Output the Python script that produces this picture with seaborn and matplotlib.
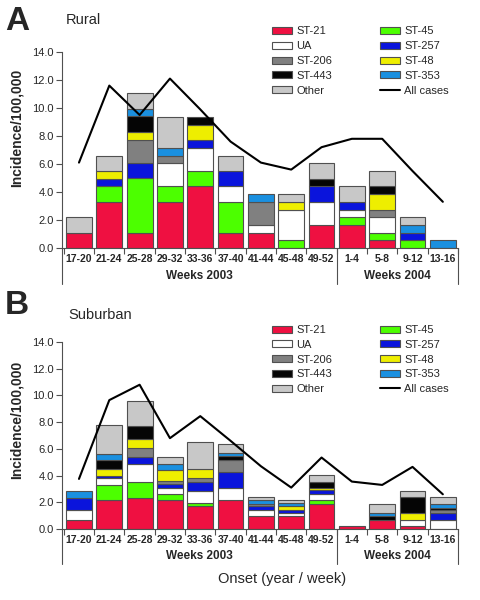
import numpy as np
import matplotlib
matplotlib.use("Agg")
import matplotlib.pyplot as plt
import matplotlib.transforms as mtransforms
from matplotlib.patches import Patch
from matplotlib.lines import Line2D
import seaborn as sns

sns.set_style("ticks")
plt.rcParams['font.family'] = ['Liberation Sans', 'DejaVu Sans']

# semanas de inicio
semanas = ["17-20", "21-24", "25-28", "29-32", "33-36", "37-40", "41-44",
           "45-48", "49-52", "1-4", "5-8", "9-12", "13-16"]
tipos = ["ST-21", "ST-45", "UA", "ST-257", "ST-206", "ST-48", "ST-443", "ST-353", "Other"]
colores = {
    "ST-21": "#EF1041", "ST-45": "#4CFF00", "UA": "#FFFFFF", "ST-257": "#0A14DC",
    "ST-206": "#808080", "ST-48": "#EEEE00", "ST-443": "#050505", "ST-353": "#1A90E0",
    "Other": "#C8C8C8",
}

# Panel A - rural
rural_st21 = [1.1, 3.3, 1.1, 3.3, 4.4, 1.1, 1.1, 0, 1.65, 1.65, 0.55, 0, 0]
rural_st45 = [0, 1.1, 3.9, 1.1, 1.1, 2.2, 0, 0.55, 0, 0.55, 0.55, 0.55, 0]
rural_ua = [0, 0, 0, 1.65, 1.65, 1.1, 0.55, 2.2, 1.65, 0.55, 1.1, 0, 0]
rural_st257 = [0, 0.55, 1.1, 0, 0.55, 1.1, 0, 0, 1.1, 0.55, 0, 0.55, 0]
rural_st206 = [0, 0, 1.65, 0.55, 0, 0, 1.65, 0, 0, 0, 0.55, 0, 0]
rural_st48 = [0, 0.55, 0.55, 0, 1.1, 0, 0, 0.55, 0, 0, 1.1, 0, 0]
rural_st443 = [0, 0, 1.1, 0, 0.55, 0, 0, 0, 0.55, 0, 0.55, 0, 0]
rural_st353 = [0, 0, 0.55, 0.55, 0, 0, 0.55, 0, 0, 0, 0, 0.55, 0.55]
rural_other = [1.1, 1.1, 1.1, 2.2, 0, 1.1, 0, 0.55, 1.1, 1.1, 1.1, 0.55, 0]
rural_total = [6.1, 11.6, 9.5, 12.1, 9.9, 7.6, 6.1, 5.6, 7.2, 7.8, 7.8, 5.5, 3.3]

# Panel B - suburbano
sub_st21 = [0.7, 2.15, 2.35, 2.15, 1.7, 2.15, 1.0, 1.0, 1.9, 0.25, 0.7, 0.25, 0]
sub_st45 = [0, 1.15, 1.2, 0.45, 0.25, 0, 0, 0, 0.25, 0, 0, 0, 0]
sub_ua = [0.7, 0.5, 1.35, 0.5, 0.9, 0.95, 0.45, 0.2, 0.45, 0, 0, 0.45, 0.7]
sub_st257 = [0.95, 0.2, 0.5, 0.3, 0.7, 1.2, 0.3, 0.25, 0.3, 0, 0, 0, 0.5]
sub_st206 = [0, 0, 0.65, 0.2, 0.25, 0.9, 0.15, 0, 0, 0, 0, 0, 0.2]
sub_st48 = [0, 0.5, 0.7, 0.85, 0.7, 0, 0, 0.25, 0.2, 0, 0, 0.5, 0]
sub_st443 = [0, 0.7, 0.95, 0, 0, 0.3, 0, 0, 0.45, 0, 0.25, 1.2, 0.2]
sub_st353 = [0.5, 0.45, 0, 0.45, 0, 0.2, 0.25, 0.25, 0, 0, 0.25, 0, 0.3]
sub_other = [0, 2.1, 1.9, 0.5, 2.05, 0.7, 0.25, 0.25, 0.5, 0, 0.7, 0.45, 0.5]
sub_total = [3.75, 9.65, 10.8, 6.8, 8.45, 6.6, 4.7, 3.1, 5.35, 3.55, 3.3, 4.65, 2.6]

rural = [rural_st21, rural_st45, rural_ua, rural_st257, rural_st206,
         rural_st48, rural_st443, rural_st353, rural_other]
suburbano = [sub_st21, sub_st45, sub_ua, sub_st257, sub_st206,
             sub_st48, sub_st443, sub_st353, sub_other]

borde = "#505050"


def panel(ax, datos, total):
    x = np.arange(len(semanas))
    base = np.zeros(len(semanas))
    for tipo, vals in zip(tipos, datos):
        vals = np.array(vals, dtype=float)
        m = vals > 0
        ax.bar(x[m], vals[m], bottom=base[m], width=0.85, color=colores[tipo],
               edgecolor=borde, linewidth=0.8, zorder=2)
        base += vals
    sns.lineplot(x=x, y=total, ax=ax, color="black", linewidth=1.5, zorder=3)

    ax.set_xlim(-0.56, 12.5)
    ax.set_ylim(0, 14)
    ax.set_yticks(np.arange(0, 15, 2))
    ax.set_yticklabels([f"{v:.1f}" for v in np.arange(0, 15, 2)], fontsize=8)
    ax.set_xticks(x)
    ax.set_xticklabels(semanas, fontsize=7.5, fontweight="bold")
    ax.set_xticks(np.arange(-0.5, 12.6, 1), minor=True)
    ax.tick_params(axis="x", which="major", length=0, pad=4)
    ax.tick_params(axis="x", which="minor", length=4, width=0.8, color=borde)
    ax.tick_params(axis="y", length=4, width=0.8, color=borde, pad=2)
    sns.despine(ax=ax)
    for s in ["left", "bottom"]:
        ax.spines[s].set_color(borde)
        ax.spines[s].set_linewidth(0.8)
    ax.set_xlabel("")
    ax.set_ylabel("")

    trans = mtransforms.blended_transform_factory(ax.transData, ax.transAxes)
    for xv in [-0.56, 8.5, 12.5]:
        ax.plot([xv, xv], [0, -0.185], transform=trans, color=borde, lw=0.8, clip_on=False)
    ax.text((-0.56 + 8.5) / 2, -0.143, "Weeks 2003", transform=trans, ha="center",
            va="center", fontsize=8.5, fontweight="bold")
    ax.text((8.5 + 12.5) / 2, -0.143, "Weeks 2004", transform=trans, ha="center",
            va="center", fontsize=8.5, fontweight="bold")


fig = plt.figure(figsize=(4.8, 6), dpi=100)
ax_a = fig.add_axes([62 / 480, 1 - 248 / 600, 396 / 480, 196 / 600])
ax_b = fig.add_axes([62 / 480, 1 - 529 / 600, 396 / 480, 187 / 600])

panel(ax_a, rural, rural_total)
panel(ax_b, suburbano, sub_total)

# leyenda (orden por filas)
handles = [Patch(facecolor=colores[t], edgecolor=borde, linewidth=0.8) for t in tipos]
handles.append(Line2D([0], [0], color="black", lw=1.5))
etiquetas = tipos + ["All cases"]
orden = [0, 2, 4, 6, 8, 1, 3, 5, 7, 9]
for ytop in [26.5, 325]:
    fig.legend([handles[i] for i in orden], [etiquetas[i] for i in orden],
               loc="upper left", bbox_to_anchor=(272 / 480, 1 - ytop / 600),
               ncol=2, frameon=False, fontsize=8, handlelength=1.8, handleheight=0.6,
               handletextpad=0.4, labelspacing=0.43, columnspacing=4.25,
               borderpad=0, borderaxespad=0)

fig.text(5 / 480, 1 - 6 / 600, "A", fontsize=24, fontweight="bold", va="top", ha="left")
fig.text(5 / 480, 1 - 290 / 600, "B", fontsize=24, fontweight="bold", va="top", ha="left")
fig.text(66 / 480, 1 - 20 / 600, "Rural", fontsize=10.5, va="center")
fig.text(68 / 480, 1 - 315 / 600, "Suburban", fontsize=10.5, va="center")
fig.text(17 / 480, 1 - 128 / 600, "Incidence/100,000", rotation=90, ha="center",
         va="center", fontsize=10, fontweight="bold")
fig.text(17 / 480, 1 - 420 / 600, "Incidence/100,000", rotation=90, ha="center",
         va="center", fontsize=10, fontweight="bold")
fig.text(282 / 480, 1 - 579 / 600, "Onset (year / week)", fontsize=10.5,
         ha="center", va="center")

fig.savefig("out.png", dpi=100)
